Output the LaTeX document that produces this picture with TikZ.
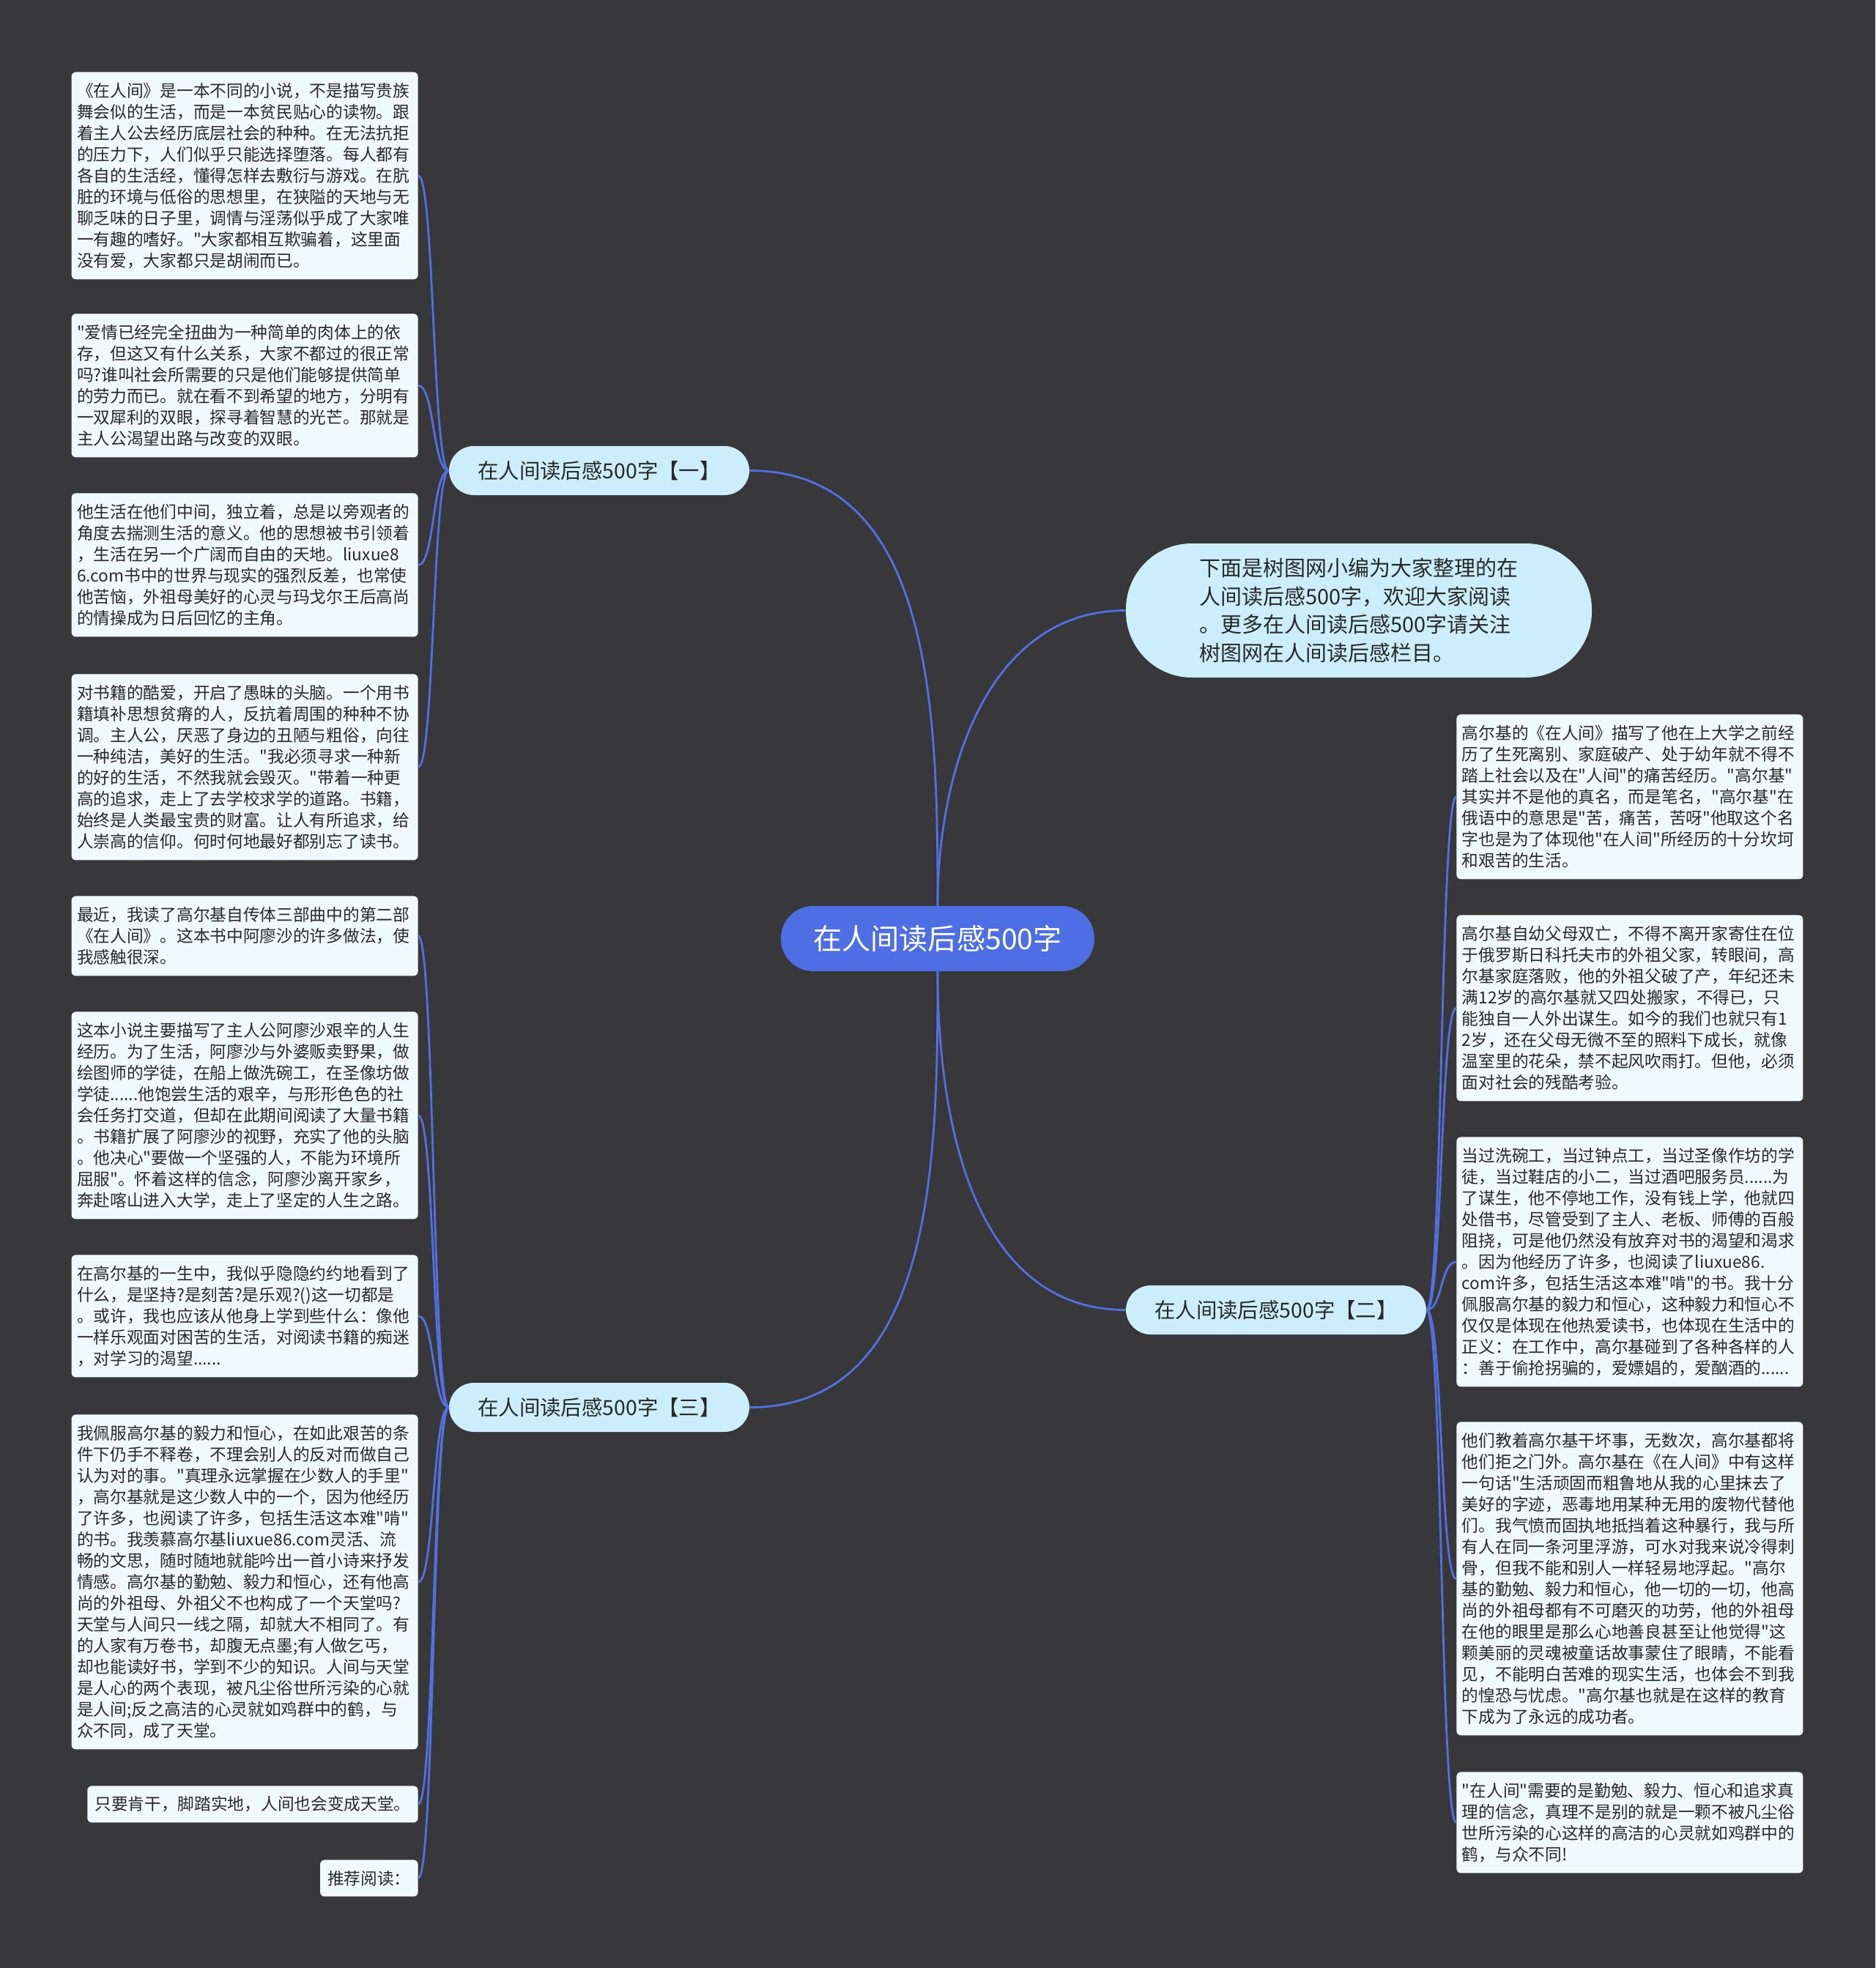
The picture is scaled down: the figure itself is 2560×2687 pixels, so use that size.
\documentclass[tikz,border=0pt]{standalone}
\usepackage{fontspec}
\setmainfont{Noto Sans CJK SC}[Ligatures=TeXOff]
\usepackage{xcolor}
\definecolor{bgdark}{RGB}{56,55,58}
\definecolor{rootblue}{RGB}{78,110,228}
\definecolor{linkblue}{RGB}{82,112,226}
\definecolor{branchfill}{RGB}{204,238,252}
\definecolor{leaffill}{RGB}{240,250,253}
\definecolor{inktext}{RGB}{40,40,40}

\begin{document}
\begin{tikzpicture}[x=0.5pt,y=0.5pt,
  rootnode/.style={fill=rootblue,text=white,rounded corners=22pt,minimum width=214pt,minimum height=44.5pt,font=\fontsize{19.6pt}{24pt}\selectfont},
  branch/.style={fill=branchfill,text=inktext,rounded corners=17pt,minimum width=205pt,minimum height=33.5pt,font=\fontsize{14.2pt}{17pt}\selectfont},
  note/.style={fill=branchfill,text=inktext,rounded corners=45pt,minimum width=318pt,minimum height=91.5pt,align=left,font=\fontsize{14.5pt}{19.4pt}\selectfont},
  leaf/.style={fill=leaffill,text=inktext,rounded corners=3pt,text width=229pt,inner xsep=3.75pt,inner ysep=0pt,align=left,font=\fontsize{11.35pt}{14.5pt}\selectfont},
  shortleaf/.style={fill=leaffill,text=inktext,rounded corners=3pt,inner xsep=5pt,minimum height=25pt,font=\fontsize{11.35pt}{14.5pt}\selectfont},
  link/.style={draw=linkblue,line width=1.4pt}]
\fill[bgdark] (0,0) rectangle (2560,-2687);

\node[rootnode] (root) at (1280,-1281.5) {在人间读后感500字};
\node[branch] (sec1) at (818,-642.5) {在人间读后感500字【一】};
\node[branch] (sec2) at (1742,-1788.5) {在人间读后感500字【二】};
\node[branch] (sec3) at (818,-1921.5) {在人间读后感500字【三】};
\node[note] (note) at (1855,-833.5) {下面是树图网小编为大家整理的在\\人间读后感500字，欢迎大家阅读\\。更多在人间读后感500字请关注\\树图网在人间读后感栏目。};

\node[leaf,anchor=north east,minimum height=141.5pt] (l1) at (571,-98) {《在人间》是一本不同的小说，不是描写贵族\\舞会似的生活，而是一本贫民贴心的读物。跟\\着主人公去经历底层社会的种种。在无法抗拒\\的压力下，人们似乎只能选择堕落。每人都有\\各自的生活经，懂得怎样去敷衍与游戏。在肮\\脏的环境与低俗的思想里，在狭隘的天地与无\\聊乏味的日子里，调情与淫荡似乎成了大家唯\\一有趣的嗜好。"大家都相互欺骗着，这里面\\没有爱，大家都只是胡闹而已。};
\node[leaf,anchor=north east,minimum height=98pt] (l2) at (571,-428) {"爱情已经完全扭曲为一种简单的肉体上的依\\存，但这又有什么关系，大家不都过的很正常\\吗?谁叫社会所需要的只是他们能够提供简单\\的劳力而已。就在看不到希望的地方，分明有\\一双犀利的双眼，探寻着智慧的光芒。那就是\\主人公渴望出路与改变的双眼。};
\node[leaf,anchor=north east,minimum height=98pt] (l3) at (571,-673) {他生活在他们中间，独立着，总是以旁观者的\\角度去揣测生活的意义。他的思想被书引领着\\，生活在另一个广阔而自由的天地。liuxue8\\6.com书中的世界与现实的强烈反差，也常使\\他苦恼，外祖母美好的心灵与玛戈尔王后高尚\\的情操成为日后回忆的主角。};
\node[leaf,anchor=north east,minimum height=127pt] (l4) at (571,-920) {对书籍的酷爱，开启了愚昧的头脑。一个用书\\籍填补思想贫瘠的人，反抗着周围的种种不协\\调。主人公，厌恶了身边的丑陋与粗俗，向往\\一种纯洁，美好的生活。"我必须寻求一种新\\的好的生活，不然我就会毁灭。"带着一种更\\高的追求，走上了去学校求学的道路。书籍，\\始终是人类最宝贵的财富。让人有所追求，给\\人崇高的信仰。何时何地最好都别忘了读书。};
\node[leaf,anchor=north east,minimum height=54.5pt] (l5) at (571,-1223) {最近，我读了高尔基自传体三部曲中的第二部\\《在人间》。这本书中阿廖沙的许多做法，使\\我感触很深。};
\node[leaf,anchor=north east,minimum height=141.5pt] (l6) at (571,-1381) {这本小说主要描写了主人公阿廖沙艰辛的人生\\经历。为了生活，阿廖沙与外婆贩卖野果，做\\绘图师的学徒，在船上做洗碗工，在圣像坊做\\学徒......他饱尝生活的艰辛，与形形色色的社\\会任务打交道，但却在此期间阅读了大量书籍\\。书籍扩展了阿廖沙的视野，充实了他的头脑\\。他决心"要做一个坚强的人，不能为环境所\\屈服"。怀着这样的信念，阿廖沙离开家乡，\\奔赴喀山进入大学，走上了坚定的人生之路。};
\node[leaf,anchor=north east,minimum height=83.5pt] (l7) at (571,-1713) {在高尔基的一生中，我似乎隐隐约约地看到了\\什么，是坚持?是刻苦?是乐观?()这一切都是\\。或许，我也应该从他身上学到些什么：像他\\一样乐观面对困苦的生活，对阅读书籍的痴迷\\，对学习的渴望......};
\node[leaf,anchor=north east,minimum height=228.5pt] (l8) at (571,-1931) {我佩服高尔基的毅力和恒心，在如此艰苦的条\\件下仍手不释卷，不理会别人的反对而做自己\\认为对的事。"真理永远掌握在少数人的手里"\\，高尔基就是这少数人中的一个，因为他经历\\了许多，也阅读了许多，包括生活这本难"啃"\\的书。我羡慕高尔基liuxue86.com灵活、流\\畅的文思，随时随地就能吟出一首小诗来抒发\\情感。高尔基的勤勉、毅力和恒心，还有他高\\尚的外祖母、外祖父不也构成了一个天堂吗?\\天堂与人间只一线之隔，却就大不相同了。有\\的人家有万卷书，却腹无点墨;有人做乞丐，\\却也能读好书，学到不少的知识。人间与天堂\\是人心的两个表现，被凡尘俗世所污染的心就\\是人间;反之高洁的心灵就如鸡群中的鹤，与\\众不同，成了天堂。};
\node[shortleaf,anchor=north east] (l9) at (571,-2438) {只要肯干，脚踏实地，人间也会变成天堂。};
\node[shortleaf,anchor=north east] (l10) at (571,-2539) {推荐阅读：};

\node[leaf,anchor=north west,minimum height=112.5pt] (r1) at (1988,-975) {高尔基的《在人间》描写了他在上大学之前经\\历了生死离别、家庭破产、处于幼年就不得不\\踏上社会以及在"人间"的痛苦经历。"高尔基"\\其实并不是他的真名，而是笔名，"高尔基"在\\俄语中的意思是"苦，痛苦，苦呀"他取这个名\\字也是为了体现他"在人间"所经历的十分坎坷\\和艰苦的生活。};
\node[leaf,anchor=north west,minimum height=127pt] (r2) at (1988,-1249) {高尔基自幼父母双亡，不得不离开家寄住在位\\于俄罗斯日科托夫市的外祖父家，转眼间，高\\尔基家庭落败，他的外祖父破了产，年纪还未\\满12岁的高尔基就又四处搬家，不得已，只\\能独自一人外出谋生。如今的我们也就只有1\\2岁，还在父母无微不至的照料下成长，就像\\温室里的花朵，禁不起风吹雨打。但他，必须\\面对社会的残酷考验。};
\node[leaf,anchor=north west,minimum height=170.5pt] (r3) at (1988,-1552) {当过洗碗工，当过钟点工，当过圣像作坊的学\\徒，当过鞋店的小二，当过酒吧服务员......为\\了谋生，他不停地工作，没有钱上学，他就四\\处借书，尽管受到了主人、老板、师傅的百般\\阻挠，可是他仍然没有放弃对书的渴望和渴求\\。因为他经历了许多，也阅读了liuxue86.\\com许多，包括生活这本难"啃"的书。我十分\\佩服高尔基的毅力和恒心，这种毅力和恒心不\\仅仅是体现在他热爱读书，也体现在生活中的\\正义：在工作中，高尔基碰到了各种各样的人\\：善于偷抢拐骗的，爱嫖娼的，爱酗酒的......};
\node[leaf,anchor=north west,minimum height=214pt] (r4) at (1988,-1941) {他们教着高尔基干坏事，无数次，高尔基都将\\他们拒之门外。高尔基在《在人间》中有这样\\一句话"生活顽固而粗鲁地从我的心里抹去了\\美好的字迹，恶毒地用某种无用的废物代替他\\们。我气愤而固执地抵挡着这种暴行，我与所\\有人在同一条河里浮游，可水对我来说冷得刺\\骨，但我不能和别人一样轻易地浮起。"高尔\\基的勤勉、毅力和恒心，他一切的一切，他高\\尚的外祖母都有不可磨灭的功劳，他的外祖母\\在他的眼里是那么心地善良甚至让他觉得"这\\颗美丽的灵魂被童话故事蒙住了眼睛，不能看\\见，不能明白苦难的现实生活，也体会不到我\\的惶恐与忧虑。"高尔基也就是在这样的教育\\下成为了永远的成功者。};
\node[leaf,anchor=north west,minimum height=69pt] (r5) at (1988,-2419) {"在人间"需要的是勤勉、毅力、恒心和追求真\\理的信念，真理不是别的就是一颗不被凡尘俗\\世所污染的心这样的高洁的心灵就如鸡群中的\\鹤，与众不同!};

\draw[link] (root.north) to[out=90,in=0] (sec1.east);
\draw[link] (root.north) to[out=90,in=180] (note.west);
\draw[link] (root.south) to[out=-90,in=180] (sec2.west);
\draw[link] (root.south) to[out=-90,in=0] (sec3.east);
\foreach \n in {l1,l2,l3,l4}
  \draw[link] (sec1.west) .. controls +(-22,0) and +(22,0) .. (\n.east);
\foreach \n in {l5,l6,l7,l8,l9,l10}
  \draw[link] (sec3.west) .. controls +(-22,0) and +(22,0) .. (\n.east);
\foreach \n in {r1,r2,r3,r4,r5}
  \draw[link] (sec2.east) .. controls +(22,0) and +(-22,0) .. (\n.west);
\end{tikzpicture}
\end{document}
